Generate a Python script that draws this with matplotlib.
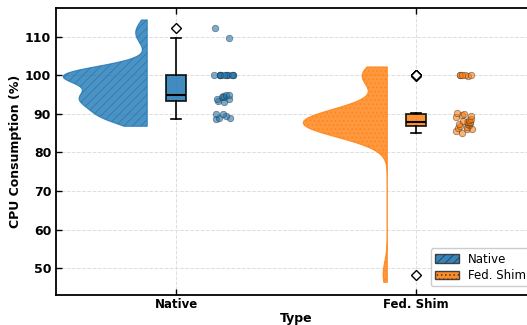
import matplotlib
matplotlib.use("Agg")
import matplotlib.pyplot as plt
from matplotlib.patches import Patch
import numpy as np

# CPU consumption samples (%)
types = ["Native", "Fed. Shim"]
native = [88.8, 89, 89, 89.5, 90, 90,
          93.0, 93.4, 93.8, 94.0, 94.3, 94.5, 94.6, 94.8, 94.9,
          100, 100, 100, 100, 100, 100, 100, 100, 100, 100, 100, 100,
          109.8, 112.4]
fed_shim = [48.3,
            85.1, 85.6, 86.0, 86.2, 86.4, 86.6, 86.9, 87.1, 87.3, 87.4, 87.6,
            87.8, 87.8, 87.9, 88.2, 88.5, 88.8, 89.1, 89.4, 89.7, 89.9, 90.3,
            99.8, 100, 100, 100, 100, 100.2]
colors = ["#1f77b4", "#ff7f0e"]
hatches = ["////", "...."]
kde_bw = [2.4, 3.4]

plt.rcParams['hatch.linewidth'] = 0.6

fig = plt.figure(figsize=(5.27, 3.25), dpi=100)
ax = fig.add_axes([0.1063, 0.0923, 0.911, 0.883])

rng = np.random.default_rng(3)
for i, (vals, c, h, bw) in enumerate(zip([native, fed_shim], colors, hatches, kde_bw)):
    vals = np.asarray(vals, dtype=float)
    # half violin (gaussian kde)
    grid = np.linspace(vals.min() - 2, vals.max() + 2, 400)
    dens = np.exp(-0.5 * ((grid[:, None] - vals[None, :]) / bw) ** 2).sum(axis=1)
    dens = dens / dens.max() * 0.35
    right = i - 0.12
    ax.fill_betweenx(grid, right - dens, right, facecolor=c, alpha=0.8,
                     edgecolor=c, hatch=h, linewidth=0.8, zorder=2)
    # box
    ax.boxplot(vals, positions=[i], widths=0.08, patch_artist=True,
               boxprops=dict(facecolor=c, alpha=0.85, edgecolor="black", linewidth=1.3),
               medianprops=dict(color="black", linewidth=1.5),
               whiskerprops=dict(color="black", linewidth=1.2),
               capprops=dict(color="black", linewidth=1.2),
               flierprops=dict(marker="D", markerfacecolor="white",
                               markeredgecolor="black", markersize=5),
               zorder=3)
    # rain
    jit = rng.uniform(-0.04, 0.04, len(vals))
    ax.scatter(i + 0.2 + jit, vals, s=22, color=c, alpha=0.6,
               edgecolor="#333333", linewidth=0.5, zorder=3)

ax.set_xlim(-0.5, 1.5)
ax.set_ylim(43, 117.5)
ax.set_xticks([0, 1])
ax.set_xticklabels(types, fontsize=8.5, fontweight="bold")
ax.set_yticks(range(50, 111, 10))
for lab in ax.get_yticklabels():
    lab.set_fontweight("bold")
    lab.set_fontsize(9)
ax.tick_params(direction="in", top=True, right=True, length=4, width=1)
ax.tick_params(axis="x", pad=2)
ax.grid(True, linestyle="--", color="#dddddd", linewidth=0.7)
ax.set_axisbelow(True)
for s in ax.spines.values():
    s.set_linewidth(1.3)
ax.set_ylabel("CPU Consumption (%)", fontsize=9, fontweight="bold", labelpad=2)
ax.set_xlabel("Type", fontsize=9, fontweight="bold", labelpad=1)

handles = [Patch(facecolor=c, edgecolor="#333333", hatch=h, alpha=0.9, label=t)
           for c, h, t in zip(colors, hatches, types)]
ax.legend(handles=handles, loc="lower right", fontsize=8.5, framealpha=1,
          handlelength=2.0, borderpad=0.35, labelspacing=0.3,
          bbox_to_anchor=(1.0, 0.01))

fig.savefig("out.png", dpi=100)
